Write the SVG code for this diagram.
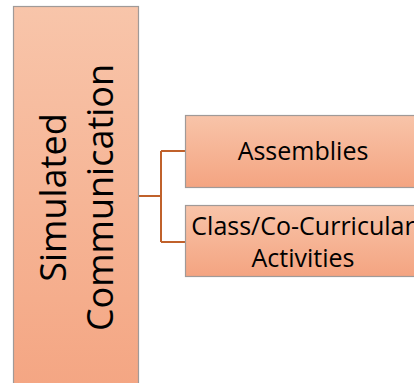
<svg xmlns="http://www.w3.org/2000/svg" width="414" height="383" viewBox="0 0 414 383">
  <defs>
    <linearGradient id="gMain" x1="0" y1="0" x2="0" y2="1">
      <stop offset="0" stop-color="#F8C5AA"/>
      <stop offset="1" stop-color="#F4A582"/>
    </linearGradient>
    <linearGradient id="gChild" x1="0" y1="0" x2="0" y2="1">
      <stop offset="0" stop-color="#F8C4A9"/>
      <stop offset="1" stop-color="#F4A481"/>
    </linearGradient>
  </defs>
  <style>
    .box { stroke: #A09A98; stroke-width: 1.2; }
    .lbl { font-family: "Open Sans", "Liberation Sans", sans-serif; fill: #000; text-anchor: middle; }
    .conn { fill: none; stroke: #C0612B; stroke-width: 2; }
  </style>
  <rect x="0" y="0" width="414" height="383" fill="#FFFFFF"/>
  <g id="connectors">
    <path class="conn" d="M138,196 H161 M161,151 V242 M161,151 H185 M161,242 H185"/>
  </g>
  <g id="node-main">
    <rect class="box" x="13.5" y="6.5" width="125" height="390" fill="url(#gMain)"/>
    <text class="lbl" font-size="36" transform="translate(66,197.5) rotate(-90)" x="0" y="0">Simulated</text>
    <text class="lbl" font-size="36" transform="translate(113,197.5) rotate(-90)" x="0" y="0">Communication</text>
  </g>
  <g id="node-assemblies">
    <rect class="box" x="185.5" y="115.5" width="235" height="72" fill="url(#gChild)"/>
    <text class="lbl" font-size="25" x="303" y="159.5">Assemblies</text>
  </g>
  <g id="node-class">
    <rect class="box" x="185.5" y="205.5" width="235" height="71" fill="url(#gChild)"/>
    <text class="lbl" font-size="25" x="303" y="235">Class/Co-Curricular</text>
    <text class="lbl" font-size="25" x="303" y="266.5">Activities</text>
  </g>
</svg>
